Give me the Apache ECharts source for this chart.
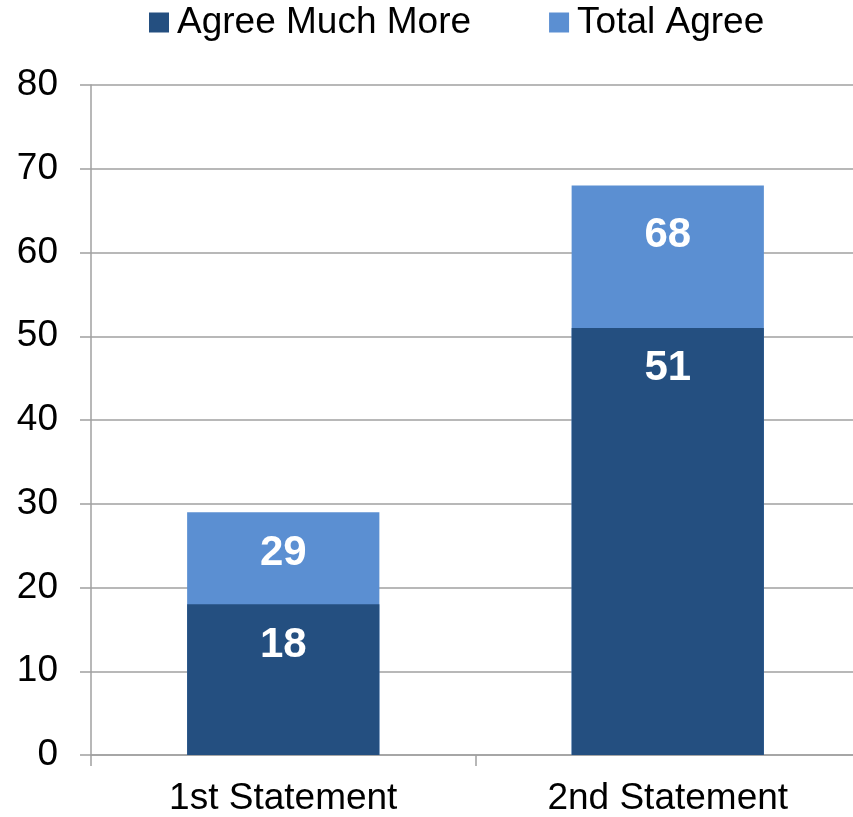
<!DOCTYPE html>
<html>
<head>
<meta charset="utf-8">
<script src="https://cdn.jsdelivr.net/npm/echarts@6/dist/echarts.min.js"></script>
<style>
html,body{margin:0;padding:0;background:#fff;overflow:hidden;}
#chart{width:870px;height:817px;}
</style>
</head>
<body>
<div id="chart"></div>
<script>
const categories = ['1st Statement', '2nd Statement'];
const agreeMuchMore = [18, 51];
const totalAgree = [29, 68];
const yTicks = [0, 10, 20, 30, 40, 50, 60, 70, 80];

const FONT = '"Liberation Sans", Arial, sans-serif';
const chart = echarts.init(document.getElementById('chart'));

const labelBase = {
  show: true,
  position: 'insideTop',
  distance: 20,
  color: '#ffffff',
  fontFamily: FONT,
  fontWeight: 'bold',
  fontSize: 42,
  lineHeight: 42
};

chart.setOption({
  backgroundColor: '#ffffff',
  animation: false,
  legend: {
    data: ['Agree Much More', 'Total Agree'],
    top: 0,
    left: 149,
    itemWidth: 20,
    itemHeight: 20,
    itemGap: 78,
    icon: 'rect',
    padding: [4, 0, 0, 0],
    textStyle: { fontFamily: FONT, fontSize: 37, color: '#000', padding: [0, 0, 0, 3] }
  },
  grid: { left: 91, top: 85, bottom: 60, width: 769, containLabel: false },
  xAxis: {
    type: 'category',
    data: categories,
    axisLine: { lineStyle: { color: '#a0a0a0', width: 1.5 } },
    axisTick: { show: true, length: 11, lineStyle: { color: '#a0a0a0', width: 1.5 } },
    axisLabel: { fontFamily: FONT, fontSize: 37, color: '#000', margin: 25, lineHeight: 37 }
  },
  yAxis: {
    type: 'value',
    min: yTicks[0],
    max: yTicks[yTicks.length - 1],
    interval: 10,
    axisLine: { show: true, lineStyle: { color: '#a0a0a0', width: 1.5 } },
    axisTick: { show: true, length: 11, lineStyle: { color: '#a0a0a0', width: 1.5 } },
    splitLine: { show: true, lineStyle: { color: '#a0a0a0', width: 1.5 } },
    axisLabel: { fontFamily: FONT, fontSize: 37, color: '#000', margin: 33 }
  },
  series: [
    {
      name: 'Total Agree',
      type: 'bar',
      barWidth: '50%',
      barGap: '-100%',
      itemStyle: { color: '#5b8fd2' },
      data: totalAgree.map((v, i) => i === 1 ? { value: v, label: { distance: 29 } } : v),
      label: labelBase
    },
    {
      name: 'Agree Much More',
      type: 'bar',
      barWidth: '50%',
      barGap: '-100%',
      itemStyle: { color: '#244f80' },
      data: agreeMuchMore,
      label: labelBase
    }
  ]
});
</script>
</body>
</html>
